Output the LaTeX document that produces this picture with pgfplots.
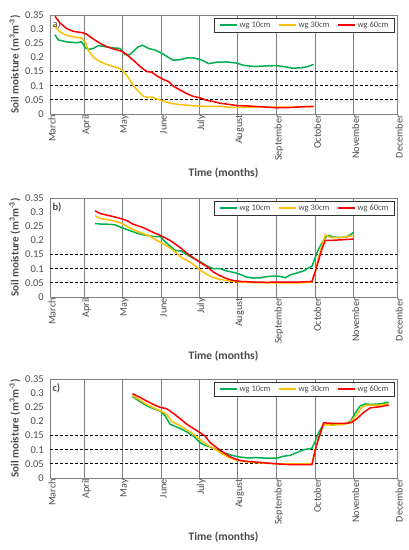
\documentclass[border=0pt]{standalone}
\usepackage{pgfplots}
\pgfplotsset{compat=1.18}
\usepackage{fontspec}
\setmainfont{Carlito}
\definecolor{cgreen}{RGB}{0,176,80}
\definecolor{corange}{RGB}{255,192,0}
\definecolor{cred}{RGB}{255,0,0}
\definecolor{tickgray}{RGB}{75,75,75}
\definecolor{gridgray}{RGB}{128,128,128}
\pgfplotsset{
  panel/.style={
    scale only axis, width=347pt, height=99pt,
    anchor=south west,
    xmin=150, xmax=1190, ymin=0, ymax=0.35,
    xtick={150,253,367,484,598,713,830,945,1060,1190},
    xticklabels={March,April,May,June,July,August,September,October,November,December},
    ytick={0,0.05,0.1,0.15,0.2,0.25,0.3,0.35},
    yticklabels={0,0.05,0.1,0.15,0.2,0.25,0.3,0.35},
    /pgf/number format/assume math mode=true,
    major tick length=0pt,
    xmajorgrids, 
    major grid style={gridgray, line width=0.8pt},
    axis line style={gridgray, line width=0.8pt},
    x tick label style={rotate=90, anchor=east, font=\fontsize{10.2}{11}\selectfont, text=tickgray, inner sep=1pt, yshift=-2pt},
    y tick label style={font=\fontsize{10.5}{11}\selectfont, text=tickgray, inner sep=1pt, xshift=-5pt},
    xlabel={\textbf{Time (months)}},
    ylabel={\textbf{Soil moisture (m\textsuperscript{3}m\textsuperscript{-3})}},
    xlabel style={at={(axis description cs:0.5,-0.596)}, anchor=center, font=\fontsize{11.5}{12}\selectfont, text=tickgray},
    ylabel style={at={(axis description cs:-0.1009,0.5)}, anchor=center, rotate=0, font=\fontsize{11}{12}\selectfont, text=tickgray},
    legend columns=3,
    legend style={at={(axis description cs:0.994,0.97)}, anchor=north east,
      font=\fontsize{8.5}{9.5}\selectfont, text=tickgray,
      inner xsep=4pt, inner ysep=1.5pt, row sep=0pt,
      /tikz/every even column/.append style={column sep=5pt}},
    legend cell align=left,
    legend image post style={line width=2pt},
    ref/.style={black, line width=0.8pt, dash pattern=on 3pt off 2pt, forget plot},
    g/.style={color=cgreen, line width=1.5pt},
    o/.style={color=corange, line width=1.5pt},
    r/.style={color=cred, line width=1.5pt},
  },
  every axis legend/.append style={draw=black!80, line width=0.8pt},
}
\begin{document}
\begin{tikzpicture}
\useasboundingbox (0,0) rectangle (409pt,550pt);
% ---------------- panel a ----------------
\begin{axis}[panel, at={(50pt,436pt)}]
\addplot[ref] coordinates {(150,0.05)(1190,0.05)};
\addplot[ref] coordinates {(150,0.1)(1190,0.1)};
\addplot[ref] coordinates {(150,0.15)(1190,0.15)};
\addplot[g] coordinates {
(165,0.28)(175,0.262)(200,0.255)(230,0.252)(245,0.255)(255,0.235)(265,0.228)(280,0.232)(295,0.242)(320,0.237)(345,0.233)(360,0.232)(375,0.21)(390,0.21)(400,0.222)(415,0.238)(428,0.243)(445,0.232)(465,0.226)(485,0.215)(505,0.2)(520,0.19)(540,0.192)(560,0.198)(580,0.198)(600,0.193)(615,0.185)(625,0.178)(650,0.183)(680,0.184)(710,0.18)(730,0.172)(760,0.168)(800,0.17)(830,0.171)(860,0.166)(875,0.162)(900,0.163)(920,0.167)(940,0.175)};
\addplot[o] coordinates {
(160,0.315)(180,0.29)(200,0.278)(220,0.273)(245,0.268)(255,0.255)(265,0.225)(280,0.2)(300,0.185)(320,0.175)(340,0.168)(360,0.16)(370,0.15)(385,0.128)(400,0.1)(415,0.08)(430,0.063)(445,0.058)(455,0.06)(470,0.053)(490,0.046)(510,0.038)(540,0.033)(580,0.029)(620,0.027)(660,0.027)(700,0.023)(740,0.024)(780,0.025)(820,0.024)(860,0.024)(900,0.026)(940,0.026)};
\addplot[r] coordinates {
(165,0.345)(180,0.322)(200,0.302)(220,0.292)(245,0.288)(260,0.282)(280,0.265)(300,0.25)(320,0.238)(340,0.23)(365,0.222)(380,0.21)(400,0.19)(420,0.168)(440,0.15)(455,0.148)(470,0.135)(490,0.122)(505,0.115)(520,0.098)(540,0.085)(560,0.072)(580,0.062)(600,0.057)(620,0.048)(640,0.044)(660,0.038)(680,0.035)(710,0.03)(750,0.028)(790,0.025)(830,0.022)(870,0.023)(900,0.025)(940,0.027)};
\legend{wg 10cm, wg 30cm, wg 60cm}
\node[anchor=west, font=\fontsize{10.5}{11}\selectfont, text=tickgray, inner sep=1pt] at (rel axis cs:0.004,0.91) {a)};
\end{axis}
% ---------------- panel b ----------------
\begin{axis}[panel, at={(50pt,253pt)}]
\addplot[ref] coordinates {(150,0.05)(1190,0.05)};
\addplot[ref] coordinates {(150,0.1)(1190,0.1)};
\addplot[ref] coordinates {(150,0.15)(1190,0.15)};
\addplot[g] coordinates {
(285,0.26)(300,0.258)(330,0.257)(345,0.255)(370,0.243)(400,0.23)(420,0.222)(440,0.218)(465,0.213)(480,0.214)(495,0.195)(515,0.175)(525,0.165)(545,0.162)(560,0.15)(575,0.14)(600,0.125)(620,0.11)(640,0.1)(660,0.1)(680,0.092)(700,0.087)(720,0.08)(740,0.07)(760,0.067)(780,0.068)(800,0.072)(820,0.074)(840,0.073)(855,0.068)(870,0.078)(890,0.085)(910,0.092)(925,0.103)(935,0.108)(945,0.14)(955,0.17)(965,0.19)(975,0.21)(985,0.218)(1000,0.212)(1020,0.21)(1040,0.213)(1060,0.228)};
\addplot[o] coordinates {
(285,0.287)(300,0.278)(330,0.272)(360,0.263)(380,0.25)(400,0.238)(420,0.228)(450,0.215)(470,0.2)(490,0.188)(510,0.173)(530,0.155)(545,0.138)(560,0.13)(580,0.115)(600,0.095)(620,0.08)(640,0.068)(660,0.062)(680,0.058)(700,0.055)(720,0.052)(760,0.051)(800,0.05)(850,0.05)(900,0.05)(935,0.052)(945,0.09)(955,0.14)(965,0.18)(975,0.22)(990,0.21)(1020,0.21)(1040,0.213)(1060,0.218)};
\addplot[r] coordinates {
(285,0.305)(300,0.295)(330,0.287)(360,0.278)(380,0.27)(400,0.257)(430,0.245)(460,0.228)(480,0.218)(510,0.2)(540,0.175)(560,0.155)(580,0.138)(600,0.122)(620,0.108)(640,0.088)(660,0.075)(680,0.065)(700,0.058)(720,0.055)(760,0.053)(800,0.052)(850,0.053)(900,0.053)(935,0.055)(945,0.09)(955,0.13)(965,0.17)(975,0.2)(990,0.2)(1020,0.202)(1060,0.205)};
\legend{wg 10cm, wg 30cm, wg 60cm}
\node[anchor=west, font=\bfseries\fontsize{10.5}{11}\selectfont, text=tickgray, inner sep=1pt] at (rel axis cs:0.004,0.91) {b)};
\end{axis}
% ---------------- panel c ----------------
\begin{axis}[panel, at={(50pt,72pt)}]
\addplot[ref] coordinates {(150,0.05)(1190,0.05)};
\addplot[ref] coordinates {(150,0.1)(1190,0.1)};
\addplot[ref] coordinates {(150,0.15)(1190,0.15)};
\addplot[g] coordinates {
(397,0.288)(420,0.27)(440,0.255)(460,0.245)(480,0.237)(495,0.22)(510,0.19)(520,0.185)(540,0.175)(560,0.163)(580,0.148)(600,0.125)(610,0.118)(630,0.11)(650,0.1)(670,0.09)(690,0.082)(710,0.076)(740,0.071)(770,0.072)(800,0.07)(830,0.07)(850,0.077)(870,0.08)(890,0.09)(910,0.1)(935,0.105)(945,0.13)(955,0.16)(970,0.19)(1000,0.19)(1030,0.19)(1050,0.2)(1065,0.23)(1080,0.255)(1095,0.262)(1110,0.26)(1140,0.262)(1165,0.268)};
\addplot[o] coordinates {
(397,0.292)(420,0.275)(440,0.26)(460,0.248)(480,0.238)(500,0.225)(515,0.2)(540,0.185)(560,0.17)(580,0.155)(600,0.135)(620,0.118)(640,0.105)(660,0.09)(680,0.076)(700,0.067)(720,0.06)(760,0.055)(800,0.052)(840,0.05)(880,0.05)(935,0.05)(945,0.1)(955,0.14)(970,0.188)(1000,0.187)(1030,0.19)(1050,0.197)(1070,0.225)(1085,0.25)(1100,0.258)(1140,0.258)(1165,0.262)};
\addplot[r] coordinates {
(397,0.298)(420,0.285)(440,0.272)(460,0.26)(480,0.25)(500,0.245)(520,0.228)(540,0.21)(560,0.19)(580,0.175)(600,0.16)(615,0.148)(630,0.125)(650,0.107)(670,0.09)(690,0.075)(710,0.065)(730,0.06)(760,0.057)(800,0.053)(830,0.05)(870,0.047)(910,0.047)(935,0.047)(945,0.1)(955,0.14)(970,0.195)(1000,0.193)(1040,0.193)(1055,0.197)(1070,0.21)(1090,0.232)(1110,0.248)(1140,0.252)(1165,0.258)};
\legend{wg 10cm, wg 30cm, wg 60cm}
\node[anchor=west, font=\bfseries\fontsize{10.5}{11}\selectfont, text=tickgray, inner sep=1pt] at (rel axis cs:0.004,0.91) {c)};
\end{axis}
\end{tikzpicture}
\end{document}
